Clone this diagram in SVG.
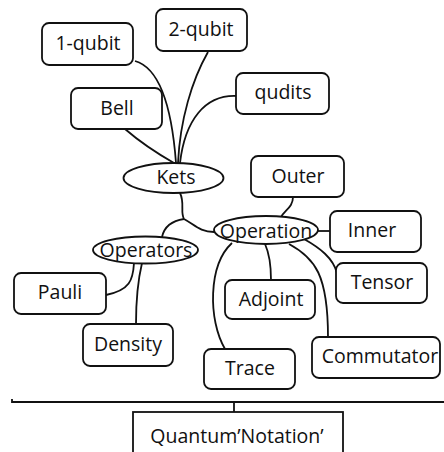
<svg xmlns="http://www.w3.org/2000/svg" width="444" height="452" viewBox="0 0 444 452">
<style>
.box{fill:#fff;stroke:#111;stroke-width:1.8}
.ell{fill:#fff;stroke:#111;stroke-width:1.8}
.lbl{font-family:"Open Sans","Noto Sans",sans-serif;font-size:19.5px;fill:#111;text-anchor:middle}
.con{fill:none;stroke:#111;stroke-width:1.8}
</style>
<rect width="444" height="452" fill="#fff"/>
<g id="connectors">
<path class="con" d="M135,61 C160,68 172,110 176,163"/>
<path class="con" d="M208,52 C192,80 180,120 178,163"/>
<path class="con" d="M125,129 C140,142 160,155 174,163"/>
<path class="con" d="M236,96 C205,95 185,120 180,163"/>
<path class="con" d="M180,193 C185,203 180,212 184,219"/>
<path class="con" d="M184,219 C170,221 164,228 162,237"/>
<path class="con" d="M184,219 C195,225 200,232 214,232"/>
<path class="con" d="M293,197 C293,207 285,210 281,217"/>
<path class="con" d="M318,231 L330,231"/>
<path class="con" d="M304,239 C320,248 333,258 337,273"/>
<path class="con" d="M289,244 C315,258 328,275 328,337"/>
<path class="con" d="M265,244 C270,255 271,265 271,280"/>
<path class="con" d="M232,243 C208,265 208,320 225,349"/>
<path class="con" d="M134,263 C133,280 130,290 106,295"/>
<path class="con" d="M142,263 C138,280 136,295 136,324"/>
<path class="con" d="M12,399 L12,402 L444,402"/>
<path class="con" d="M234,402 L234,412"/>
</g>
<g id="n-1qubit"><rect class="box" x="42" y="23" width="91" height="42" rx="7"/><text class="lbl" x="88" y="50">1-qubit</text></g>
<g id="n-2qubit"><rect class="box" x="156" y="9" width="91" height="42" rx="7"/><text class="lbl" x="201" y="36">2-qubit</text></g>
<g id="n-bell"><rect class="box" x="71" y="88" width="91" height="41" rx="7"/><text class="lbl" x="117" y="115">Bell</text></g>
<g id="n-qudits"><rect class="box" x="236" y="73" width="93" height="41" rx="7"/><text class="lbl" x="283" y="99">qudits</text></g>
<g id="n-kets"><ellipse class="ell" cx="173.5" cy="178" rx="50" ry="15"/><text class="lbl" x="176" y="184">Kets</text></g>
<g id="n-outer"><rect class="box" x="251" y="156" width="93" height="41" rx="7"/><text class="lbl" x="298" y="183">Outer</text></g>
<g id="n-operation"><ellipse class="ell" cx="266" cy="230" rx="52" ry="14"/><text class="lbl" x="266" y="238">Operation</text></g>
<g id="n-operators"><ellipse class="ell" cx="145.5" cy="250" rx="52.5" ry="13.5"/><text class="lbl" x="146" y="257">Operators</text></g>
<g id="n-inner"><rect class="box" x="330" y="211" width="91" height="41" rx="7"/><text class="lbl" x="372" y="237">Inner</text></g>
<g id="n-tensor"><rect class="box" x="336" y="263" width="91" height="40" rx="7"/><text class="lbl" x="382" y="289">Tensor</text></g>
<g id="n-adjoint"><rect class="box" x="225" y="280" width="90" height="39" rx="7"/><text class="lbl" x="271" y="306">Adjoint</text></g>
<g id="n-commutator"><rect class="box" x="312" y="337" width="128" height="41" rx="7"/><text class="lbl" x="380" y="363">Commutator</text></g>
<g id="n-trace"><rect class="box" x="204" y="349" width="91" height="40" rx="7"/><text class="lbl" x="250" y="375">Trace</text></g>
<g id="n-pauli"><rect class="box" x="14" y="273" width="92" height="41" rx="7"/><text class="lbl" x="60" y="299">Pauli</text></g>
<g id="n-density"><rect class="box" x="83" y="324" width="90" height="42" rx="7"/><text class="lbl" x="128" y="351">Density</text></g>
<g id="n-quantum"><rect class="box" x="133" y="412" width="210" height="50"/><text class="lbl" x="237" y="443">Quantum’Notation’</text></g>
</svg>
